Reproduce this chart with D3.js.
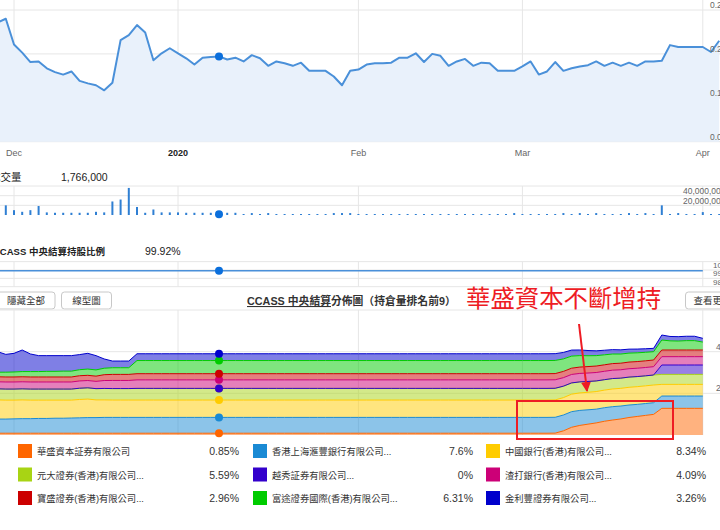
<!DOCTYPE html>
<html><head><meta charset="utf-8">
<script src="https://cdn.jsdelivr.net/npm/d3@7"></script>
<style>
html,body{margin:0;padding:0;background:#fff;overflow:hidden}
svg{display:block;font-family:"Liberation Sans","Noto Sans CJK TC",sans-serif}
</style></head><body>
<svg id="c" width="720" height="530"></svg>
<script>
// ---------- DATA ----------
const dates = [
"2019-11-28","2019-11-29","2019-12-02","2019-12-03","2019-12-04","2019-12-05","2019-12-06","2019-12-09","2019-12-10","2019-12-11",
"2019-12-12","2019-12-13","2019-12-16","2019-12-17","2019-12-18","2019-12-19","2019-12-20","2019-12-23","2019-12-24","2019-12-27",
"2019-12-30","2019-12-31","2020-01-02","2020-01-03","2020-01-06","2020-01-07","2020-01-08","2020-01-09","2020-01-10","2020-01-13",
"2020-01-14","2020-01-15","2020-01-16","2020-01-17","2020-01-20","2020-01-21","2020-01-22","2020-01-23","2020-01-24","2020-01-27",
"2020-01-28","2020-01-29","2020-01-30","2020-01-31","2020-02-03","2020-02-04","2020-02-05","2020-02-06","2020-02-07","2020-02-10",
"2020-02-11","2020-02-12","2020-02-13","2020-02-14","2020-02-17","2020-02-18","2020-02-19","2020-02-20","2020-02-21","2020-02-24",
"2020-02-25","2020-02-26","2020-02-27","2020-02-28","2020-03-02","2020-03-03","2020-03-04","2020-03-05","2020-03-06","2020-03-09",
"2020-03-10","2020-03-11","2020-03-12","2020-03-13","2020-03-16","2020-03-17","2020-03-18","2020-03-19","2020-03-20","2020-03-23",
"2020-03-24","2020-03-25","2020-03-26","2020-03-27","2020-03-30","2020-03-31","2020-04-01","2020-04-02","2020-04-03"];

const price = [
0.260,0.266,0.225,0.212,0.197,0.198,0.187,0.181,0.177,0.182,
0.167,0.163,0.160,0.152,0.164,0.232,0.240,0.256,0.244,0.200,
0.211,0.219,0.211,0.203,0.193,0.204,0.205,0.206,0.201,0.204,
0.198,0.208,0.203,0.191,0.198,0.195,0.191,0.196,0.183,0.183,
0.183,0.174,0.160,0.183,0.185,0.193,0.195,0.195,0.196,0.204,
0.204,0.211,0.197,0.210,0.207,0.191,0.198,0.202,0.191,0.196,
0.195,0.183,0.183,0.183,0.190,0.198,0.177,0.182,0.197,0.183,
0.187,0.190,0.192,0.198,0.191,0.196,0.191,0.196,0.191,0.198,
0.198,0.199,0.224,0.221,0.221,0.221,0.221,0.213,0.231];

const volume = [
3000000,20000000,10000000,6600000,10000000,18600000,5400000,4600000,4600000,4600000,
4600000,4600000,6600000,5400000,28000000,32000000,56000000,16600000,4600000,11400000,
5400000,5400000,5400000,4600000,4600000,4600000,4600000,1766000,4600000,4600000,
1000000,4000000,1000000,4000000,1000000,1000000,1000000,1000000,1000000,1000000,
1000000,4000000,4000000,4000000,1000000,1000000,1000000,1000000,1000000,1000000,
1000000,1000000,1000000,1000000,1000000,1000000,1000000,1000000,1000000,1000000,
1000000,1000000,1000000,4000000,1000000,1000000,1000000,1000000,1000000,4000000,
1000000,4000000,1000000,4000000,1000000,1000000,1000000,4000000,1000000,4000000,
1000000,20000000,1000000,4000000,1000000,1000000,6000000,1000000,2000000];

const ccassPct = [
99.92,99.92,99.92,99.92,99.92,99.92,99.92,99.92,99.92,99.92,
99.92,99.92,99.92,99.92,99.92,99.92,99.92,99.92,99.92,99.92,
99.92,99.92,99.92,99.92,99.92,99.92,99.92,99.92,99.92,99.92,
99.92,99.92,99.92,99.92,99.92,99.92,99.92,99.92,99.92,99.92,
99.92,99.92,99.92,99.92,99.92,99.92,99.92,99.92,99.92,99.92,
99.92,99.92,99.92,99.92,99.92,99.92,99.92,99.92,99.92,99.92,
99.92,99.92,99.92,99.92,99.92,99.92,99.92,99.92,99.92,99.92,
99.92,99.92,99.92,99.92,99.92,99.92,99.92,99.92,99.92,99.92,
99.92,99.92,99.92,99.92,99.92,99.92,99.92];

// holdings (% of issued shares), stacking order bottom -> top
const wahSeng = [
0.85,0.85,0.85,0.85,0.85,0.85,0.85,0.85,0.85,0.85,
0.85,0.85,0.85,0.85,0.85,0.85,0.85,0.85,0.85,0.85,
0.85,0.85,0.85,0.85,0.85,0.85,0.85,0.85,0.85,0.85,
0.85,0.85,0.85,0.85,0.85,0.85,0.85,0.85,0.85,0.85,
0.85,0.85,0.85,0.85,0.85,0.85,0.85,0.85,0.85,0.85,
0.85,0.85,0.85,0.85,0.85,0.85,0.85,0.85,0.85,0.85,
0.85,0.85,0.85,0.85,0.85,0.85,0.85,0.85,0.9,2.0,
3.7,4.6,5.2,5.8,6.6,7.2,7.7,8.4,8.9,9.4,
9.9,12.8,12.8,12.8,12.8,12.8,12.8];
const hsbc = [
6.8,6.8,6.9,7.0,7.0,7.1,7.1,7.2,7.2,7.3,
7.4,7.5,7.5,7.6,7.6,7.6,7.6,7.6,7.6,7.6,
7.6,7.6,7.6,7.6,7.6,7.6,7.6,7.6,7.6,7.6,
7.6,7.6,7.6,7.6,7.6,7.6,7.6,7.6,7.6,7.6,
7.6,7.6,7.6,7.6,7.6,7.6,7.6,7.6,7.6,7.6,
7.6,7.6,7.6,7.6,7.6,7.6,7.6,7.6,7.6,7.6,
7.6,7.6,7.6,7.6,7.6,7.6,7.6,7.6,7.6,7.6,
7.5,7.2,6.9,6.6,6.5,6.4,6.2,6.0,5.8,5.7,
5.6,5.9,5.9,5.9,5.9,5.9,5.9];
const bocHK = [
9.2,9.1,9.0,9.0,8.9,8.8,8.8,8.7,8.7,8.6,
8.8,8.9,8.5,8.4,8.34,8.34,8.34,8.34,8.34,8.34,
8.34,8.34,8.34,8.34,8.34,8.34,8.34,8.34,8.34,8.34,
8.34,8.34,8.34,8.34,8.34,8.34,8.34,8.34,8.34,8.34,
8.34,8.34,8.34,8.34,8.34,8.34,8.34,8.34,8.34,8.34,
8.34,8.34,8.34,8.34,8.34,8.34,8.34,8.34,8.34,8.34,
8.34,8.34,8.34,8.34,8.34,8.34,8.34,8.34,8.34,8.34,
8.4,8.4,8.4,8.45,8.45,8.5,8.5,8.5,8.5,8.5,
8.5,5.6,5.6,5.6,5.6,5.6,5.6];
const yuanta = [
5.3,5.3,5.3,5.3,5.3,5.3,5.3,5.3,5.3,5.3,
5.4,5.4,5.4,5.5,5.5,5.5,5.5,5.59,5.59,5.59,
5.59,5.59,5.59,5.59,5.59,5.59,5.59,5.59,5.59,5.59,
5.59,5.59,5.59,5.59,5.59,5.59,5.59,5.59,5.59,5.59,
5.59,5.59,5.59,5.59,5.59,5.59,5.59,5.59,5.59,5.59,
5.59,5.59,5.59,5.59,5.59,5.59,5.59,5.59,5.59,5.59,
5.59,5.59,5.59,5.59,5.59,5.59,5.59,5.59,5.59,5.5,
5.4,5.3,5.2,5.1,5.0,5.0,4.9,4.9,4.85,4.8,
4.8,4.8,4.8,4.8,4.8,4.8,4.8];
const yuexiu = [
0,0,0,0,0,0,0,0,0,0,
0,0,0,0,0,0,0,0,0,0,
0,0,0,0,0,0,0,0,0,0,
0,0,0,0,0,0,0,0,0,0,
0,0,0,0,0,0,0,0,0,0,
0,0,0,0,0,0,0,0,0,0,
0,0,0,0,0,0,0,0,0,0,
0,0,0,0,0,0,0,0,0,0,
0,4.5,4.5,4.5,4.5,4.5,4.5];
const stanChart = [
3.4,3.4,3.4,3.4,3.4,3.4,3.4,3.4,3.4,3.4,
3.5,3.5,3.5,3.8,3.9,3.9,3.9,4.09,4.09,4.09,
4.09,4.09,4.09,4.09,4.09,4.09,4.09,4.09,4.09,4.09,
4.09,4.09,4.09,4.09,4.09,4.09,4.09,4.09,4.09,4.09,
4.09,4.09,4.09,4.09,4.09,4.09,4.09,4.09,4.09,4.09,
4.09,4.09,4.09,4.09,4.09,4.09,4.09,4.09,4.09,4.09,
4.09,4.09,4.09,4.09,4.09,4.09,4.09,4.09,4.09,4.08,
4.07,4.06,4.05,4.05,4.04,4.03,4.02,4.01,4.0,4.0,
4.0,4.0,4.0,4.0,4.0,4.0,4.0];
const bsi = [
2.4,2.4,2.4,2.4,2.4,2.4,2.4,2.4,2.4,2.4,
2.5,2.5,2.5,2.8,2.9,2.9,2.9,2.96,2.96,2.96,
2.96,2.96,2.96,2.96,2.96,2.96,2.96,2.96,2.96,2.96,
2.96,2.96,2.96,2.96,2.96,2.96,2.96,2.96,2.96,2.96,
2.96,2.96,2.96,2.96,2.96,2.96,2.96,2.96,2.96,2.96,
2.96,2.96,2.96,2.96,2.96,2.96,2.96,2.96,2.96,2.96,
2.96,2.96,2.96,2.96,2.96,2.96,2.96,2.96,2.96,3.0,
3.0,3.05,3.1,3.1,3.1,3.15,3.15,3.2,3.2,3.2,
3.2,3.2,3.2,3.2,3.2,3.2,3.2];
const futu = [
2.2,2.3,2.4,2.5,2.6,2.6,2.7,2.7,2.8,2.8,
2.9,3.0,3.0,3.1,3.2,3.2,3.2,6.31,6.31,6.31,
6.31,6.31,6.31,6.31,6.31,6.31,6.31,6.31,6.31,6.31,
6.31,6.31,6.31,6.31,6.31,6.31,6.31,6.31,6.31,6.31,
6.31,6.31,6.31,6.31,6.31,6.31,6.31,6.31,6.31,6.31,
6.31,6.31,6.31,6.31,6.31,6.31,6.31,6.31,6.31,6.31,
6.31,6.31,6.31,6.31,6.31,6.31,6.31,6.31,6.31,6.0,
5.8,5.5,5.2,5.0,4.8,4.6,4.4,4.3,4.2,4.1,
4.0,4.8,4.4,4.3,4.5,4.5,3.8];
const kingston = [
9.85,8.55,8.95,10.35,8.45,7.65,7.55,7.55,7.45,7.45,
7.25,7.55,6.85,4.45,3.21,3.21,3.21,3.26,3.26,3.26,
3.26,3.26,3.26,3.26,3.26,3.26,3.26,3.26,3.26,3.26,
3.26,3.26,3.26,3.26,3.26,3.26,3.26,3.26,3.26,3.26,
3.26,3.26,3.26,3.26,3.26,3.26,3.26,3.26,3.26,3.26,
3.26,3.26,3.26,3.26,3.26,3.26,3.26,3.26,3.26,3.26,
3.26,3.26,3.26,3.26,3.26,3.26,3.26,3.26,3.26,3.1,
2.9,2.7,2.5,2.3,2.2,2.1,2.0,1.9,1.8,1.7,
1.6,2.4,2.1,2.1,2.1,2.1,1.8];

const seriesNames = ["華盛資本証券有限公司","香港上海滙豐銀行有限公司...","中國銀行(香港)有限公司...",
  "元大證券(香港)有限公司...","越秀証券有限公司...","渣打銀行(香港)有限公司...",
  "寶盛證券(香港)有限公司...","富途證券國際(香港)有限公司...","金利豐證券有限公司..."];
const seriesValues = [wahSeng, hsbc, bocHK, yuanta, yuexiu, stanChart, bsi, futu, kingston];
const seriesColors = ["#ff6600","#1a8ad4","#ffcc00","#a8d414","#3300cc","#cc0077","#cc0000","#00cc00","#0000cc"];

const hoverDate = "2020-01-09";
const priceTicks = [0.07, 0.14, 0.21, 0.28];
const volumeTicks = [20000000, 40000000, 60000000];
const volumeLabelTicks = [20000000, 40000000];
const ccassTicks = [98, 99, 100, 101];
const ccassLabelTicks = [98, 99, 100];
const stackTicks = [20, 40, 60];
const stackLabelTicks = [20, 40];

// ---------- DRAW ----------
const svg = d3.select("#c");
const grid = "#e6e6e6";
const axisFont = 8.5;
const x = d3.scalePoint().domain(dates).range([-2.4, 719.2]);
const hi = dates.indexOf(hoverDate);

const monthTicks = dates.filter((d, i) => i > 0 && d.slice(5, 7) !== dates[i - 1].slice(5, 7));
const parse = d3.timeParse("%Y-%m-%d");

function vgrid(y0, y1) {
  svg.append("g").selectAll("line").data(monthTicks).join("line")
    .attr("x1", d => x(d)).attr("x2", d => x(d)).attr("y1", y0).attr("y2", y1)
    .attr("stroke", grid).attr("stroke-width", 1);
}

// Price panel
const yP = d3.scaleLinear().domain([0.07, 0.28]).range([141.7, 10]);
svg.append("g").selectAll("line").data(priceTicks).join("line")
  .attr("x1", 0).attr("x2", 720).attr("y1", d => yP(d)).attr("y2", d => yP(d))
  .attr("stroke", grid);
vgrid(0, 141.7);
svg.append("path").datum(price)
  .attr("d", d3.area().x((d, i) => x(dates[i])).y0(yP(0.07)).y1(d => yP(d)))
  .attr("fill", "#e9f1fb");
svg.append("path").datum(price)
  .attr("d", d3.line().x((d, i) => x(dates[i])).y(d => yP(d)))
  .attr("fill", "none").attr("stroke", "#4a90d9").attr("stroke-width", 2).attr("stroke-linejoin", "round");
svg.append("circle").attr("cx", x(hoverDate)).attr("cy", yP(price[hi])).attr("r", 4).attr("fill", "#0b6fdc");
svg.append("g").selectAll("text").data(priceTicks).join("text")
  .attr("x", 710).attr("y", d => yP(d) - 2).attr("font-size", axisFont).attr("fill", "#666").text(d => d.toFixed(2));
svg.append("g").selectAll("text").data(monthTicks).join("text")
  .attr("x", d => x(d)).attr("y", 155.5).attr("text-anchor", "middle").attr("font-size", 9)
  .attr("font-weight", d => d.slice(5, 7) === "01" ? "bold" : "normal")
  .attr("fill", d => d.slice(5, 7) === "01" ? "#222" : "#666")
  .text(d => d.slice(5, 7) === "01" ? d3.timeFormat("%Y")(parse(d)) : d3.timeFormat("%b")(parse(d)));

// Volume panel
const yV = d3.scaleLinear().domain([0, 60000000]).range([215, 186]);
svg.append("text").attr("x", -10).attr("y", 181).attr("font-size", 10.5).attr("fill", "#222").text("成交量");
svg.append("text").attr("x", 61).attr("y", 181).attr("font-size", 10.5).attr("fill", "#222").text(d3.format(",")(volume[hi]));
svg.append("g").selectAll("line").data(volumeTicks).join("line")
  .attr("x1", 0).attr("x2", 720).attr("y1", d => yV(d)).attr("y2", d => yV(d)).attr("stroke", grid);
vgrid(186, 215);
svg.append("g").selectAll("rect").data(volume).join("rect")
  .attr("x", (d, i) => x(dates[i]) - 1).attr("width", 2)
  .attr("y", d => Math.min(yV(d), yV(0) - 1)).attr("height", d => Math.max(1, yV(0) - yV(d)))
  .attr("fill", "#2f7fd3");
svg.append("circle").attr("cx", x(hoverDate)).attr("cy", yV(volume[hi])).attr("r", 4).attr("fill", "#0b6fdc");
svg.append("g").selectAll("text").data(volumeLabelTicks).join("text")
  .attr("x", 683).attr("y", d => yV(d) - 1.5).attr("font-size", axisFont).attr("fill", "#666").text(d3.format(","));

// CCASS % panel
const ccDates = dates.slice(0, ccassPct.length);
const yC = d3.scaleLinear().domain([98, 100]).range([286.7, 270]);
svg.append("text").attr("x", -7).attr("y", 254.5).attr("font-size", 9.5).attr("font-weight", "bold").attr("fill", "#222").text("CCASS 中央結算持股比例");
svg.append("text").attr("x", 145).attr("y", 254.5).attr("font-size", 10.5).attr("fill", "#222").text(ccassPct[hi] + "%");
svg.append("g").selectAll("line").data(ccassTicks).join("line")
  .attr("x1", 0).attr("x2", 720).attr("y1", d => yC(d)).attr("y2", d => yC(d)).attr("stroke", grid);
vgrid(yC(101), yC(98));
svg.append("path").datum(ccassPct)
  .attr("d", d3.line().x((d, i) => x(ccDates[i])).y(d => yC(d)))
  .attr("fill", "none").attr("stroke", "#4a90d9").attr("stroke-width", 1.5);
svg.append("circle").attr("cx", x(hoverDate)).attr("cy", yC(ccassPct[hi])).attr("r", 4).attr("fill", "#0b6fdc");
svg.append("g").selectAll("text").data(ccassLabelTicks).join("text")
  .attr("x", 713).attr("y", d => yC(d) - 2).attr("font-size", 8).attr("fill", "#666").text(d => d);

// Buttons + title
function button(x0, w, label) {
  const g = svg.append("g");
  g.append("rect").attr("x", x0).attr("y", 292).attr("width", w).attr("height", 17).attr("rx", 3)
    .attr("fill", "#fff").attr("stroke", "#c8c8c8");
  g.append("text").attr("x", x0 + w / 2).attr("y", 304.3).attr("text-anchor", "middle")
    .attr("font-size", 9.5).attr("fill", "#333").text(label);
}
button(-3, 58, "隱藏全部");
button(61.5, 50, "線型圖");
button(685.5, 54, "查看更多");
const title = svg.append("text").attr("x", 247).attr("y", 305).attr("font-size", 10.8).attr("font-weight", "bold").attr("fill", "#333");
title.append("tspan").attr("text-decoration", "underline").text("CCASS 中央結算");
title.append("tspan").text("分佈圖（持倉量排名前9）");

// Stacked CCASS distribution
const yS = d3.scaleLinear().domain([0, 60]).range([435, 310]);
svg.append("g").selectAll("line").data(stackTicks).join("line")
  .attr("x1", 0).attr("x2", 720).attr("y1", d => yS(d)).attr("y2", d => yS(d)).attr("stroke", grid);
vgrid(310, 435);
const keys = seriesNames.map((n, k) => "s" + k);
const rows = ccDates.map((d, i) => {
  const r = { date: d };
  keys.forEach((k, j) => r[k] = seriesValues[j][i]);
  return r;
});
const stacked = d3.stack().keys(keys)(rows);
const gS = svg.append("g");
gS.selectAll("path.a").data(stacked).join("path").attr("class", "a")
  .attr("d", d3.area().x(d => x(d.data.date)).y0(d => yS(d[0])).y1(d => yS(d[1])))
  .attr("fill", (d, k) => seriesColors[k]).attr("fill-opacity", 0.5);
gS.selectAll("path.l").data(stacked).join("path").attr("class", "l")
  .attr("d", d3.line().x(d => x(d.data.date)).y(d => yS(d[1])))
  .attr("fill", "none").attr("stroke", (d, k) => seriesColors[k]).attr("stroke-width", 1);
gS.selectAll("circle").data(stacked).join("circle")
  .attr("cx", x(hoverDate)).attr("cy", d => yS(d[hi][1])).attr("r", 4)
  .attr("fill", (d, k) => seriesColors[k]);
svg.append("g").selectAll("text").data(stackLabelTicks).join("text")
  .attr("x", 716).attr("y", d => yS(d) - 2).attr("font-size", axisFont).attr("fill", "#666").text(d => d + "%");

// Annotation
svg.append("text").attr("x", 466).attr("y", 307).attr("font-size", 24.4).attr("fill", "#ee1c24")
  .attr("font-family", "Noto Sans CJK TC").text("華盛資本不斷增持");
svg.append("defs").append("marker").attr("id", "ah").attr("viewBox", "0 0 10 10")
  .attr("refX", 9).attr("refY", 5).attr("markerWidth", 5).attr("markerHeight", 5).attr("orient", "auto")
  .append("path").attr("d", "M0,0L10,5L0,10Z").attr("fill", "#ee1c24");
svg.append("line").attr("x1", 579).attr("y1", 324).attr("x2", 587).attr("y2", 391)
  .attr("stroke", "#ee1c24").attr("stroke-width", 2).attr("marker-end", "url(#ah)");
svg.append("rect").attr("x", 517).attr("y", 401).attr("width", 156).attr("height", 38)
  .attr("fill", "none").attr("stroke", "#ee1c24").attr("stroke-width", 2);

// Legend
const colX = [18, 253, 486];
const valX = [239, 473, 706];
const rowY = [444, 467.5, 491];
const leg = svg.append("g").selectAll("g").data(seriesNames).join("g")
  .attr("transform", (d, k) => `translate(0,${rowY[Math.floor(k / 3)]})`);
leg.append("rect").attr("x", (d, k) => colX[k % 3]).attr("y", 0).attr("width", 14).attr("height", 14)
  .attr("fill", (d, k) => seriesColors[k]);
leg.append("text").attr("x", (d, k) => colX[k % 3] + 19).attr("y", 11).attr("font-size", 9.3).attr("fill", "#333").text(d => d);
leg.append("text").attr("x", (d, k) => valX[k % 3]).attr("y", 11).attr("text-anchor", "end").attr("font-size", 10.5)
  .attr("fill", "#333").text((d, k) => (+seriesValues[k][hi]) + "%");
</script>
</body></html>
